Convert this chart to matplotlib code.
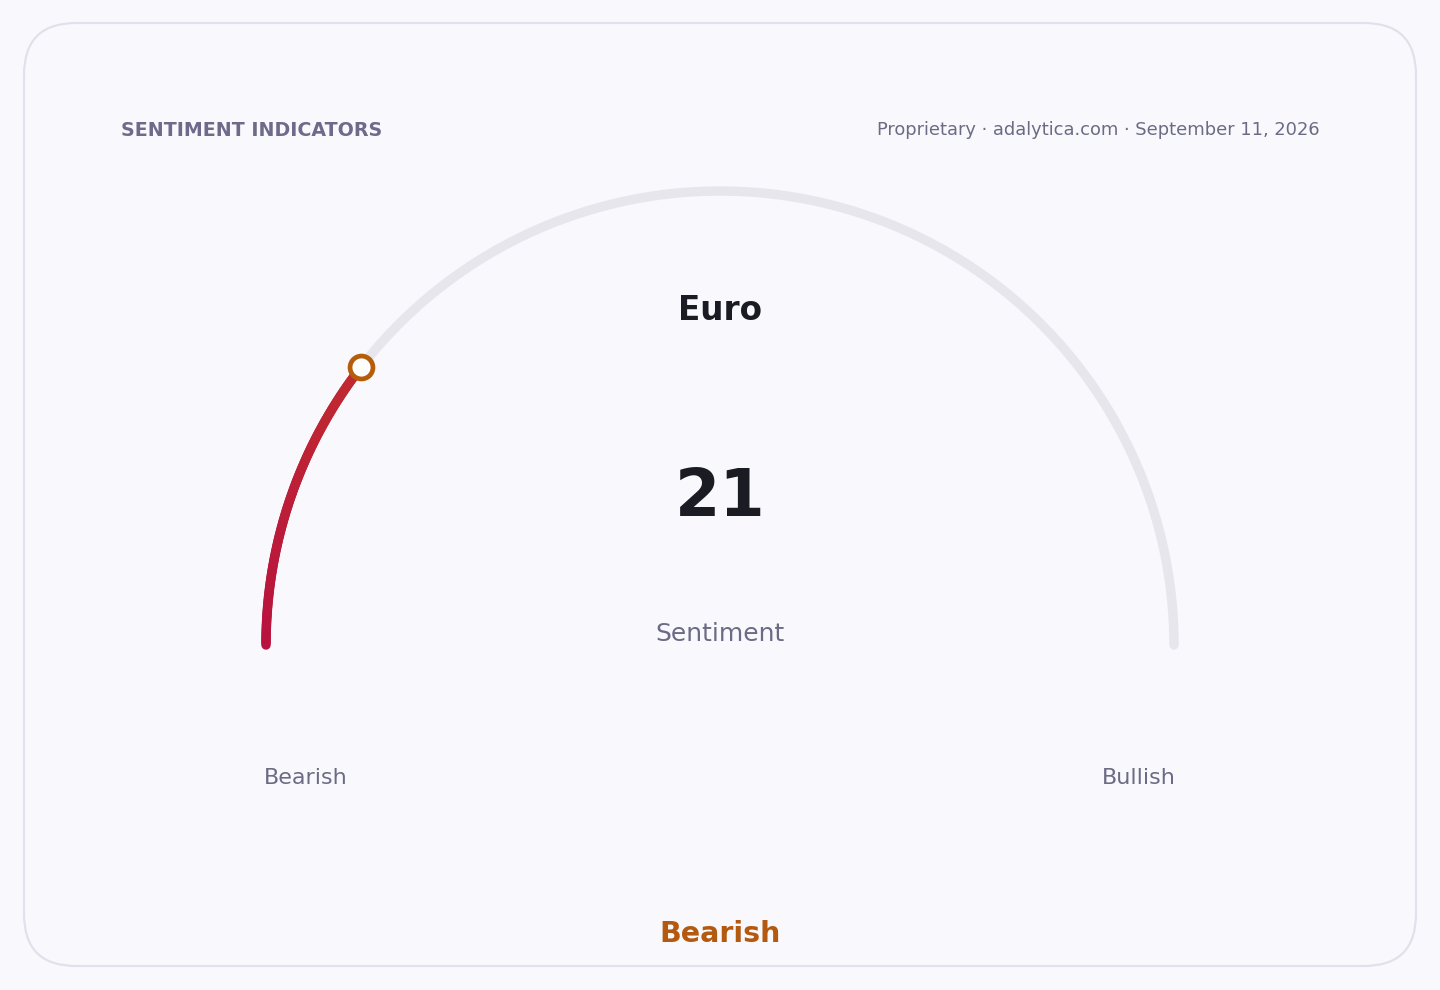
import numpy as np
import matplotlib
matplotlib.use('agg')
import matplotlib.pyplot as plt
from matplotlib.patches import FancyBboxPatch
from matplotlib.collections import LineCollection
from matplotlib.colors import LinearSegmentedColormap

# chart content
title = "SENTIMENT INDICATORS"
source = "Proprietary \u00b7 adalytica.com \u00b7 September 11, 2026"
asset = "Euro"
value = 21
value_min = 0
value_max = 100
metric = "Sentiment"
low_label = "Bearish"
high_label = "Bullish"
verdict = "Bearish"

W, H = 1440, 990
fig = plt.figure(figsize=(W / 100, H / 100), dpi=100)
fig.patch.set_facecolor('#f9f9fd')
ax = fig.add_axes([0, 0, 1, 1])
ax.set_xlim(0, W)
ax.set_ylim(H, 0)
ax.set_aspect('equal')
ax.axis('off')

# card
card = FancyBboxPatch((24, 23), 1392, 943, boxstyle="round,pad=0,rounding_size=52",
                      facecolor='#f9f9fd', edgecolor='#e1e1ec', linewidth=1.6, zorder=0)
ax.add_patch(card)

ax.text(121, 130, title, fontsize=13.7, fontweight='bold', color='#6e6a8a',
        ha='left', va='center')
ax.text(1320, 130, source, fontsize=12.9, color='#6b6b85', ha='right', va='center')

# gauge geometry
cx, cy, r = 720, 645, 454
lw = 6.8

t = np.linspace(np.pi, 0, 400)
ax.plot(cx + r * np.cos(t), cy - r * np.sin(t), color='#e6e6ec', lw=lw,
        solid_capstyle='round', zorder=1)

frac = (value - value_min) / (value_max - value_min)
end = np.pi - frac * np.pi
tv = np.linspace(np.pi, end, 120)
xs = cx + r * np.cos(tv)
ys = cy - r * np.sin(tv)
pts = np.column_stack([xs, ys]).reshape(-1, 1, 2)
segs = np.concatenate([pts[:-1], pts[1:]], axis=1)
cmap = LinearSegmentedColormap.from_list('bear', ['#b8123f', '#c02a30'])
lc = LineCollection(segs, colors=cmap(np.linspace(0, 1, len(segs))), linewidths=lw,
                    capstyle='round', zorder=2)
ax.add_collection(lc)

# value marker
ax.plot([xs[-1]], [ys[-1]], 'o', ms=16.5, mfc='white', mec='#b65d0c', mew=3.4, zorder=3)

ax.text(cx, 310, asset, fontsize=23.5, fontweight='bold', color='#1b1b24',
        ha='center', va='center')
ax.text(cx, 498, str(value), fontsize=47, fontweight='bold', color='#1b1b24',
        ha='center', va='center')
ax.text(cx, 634, metric, fontsize=18, color='#6b6b85', ha='center', va='center')

ax.text(264, 778, low_label, fontsize=16, color='#6b6b85', ha='left', va='center')
ax.text(1176, 778, high_label, fontsize=16, color='#6b6b85', ha='right', va='center')

ax.text(cx, 934, verdict, fontsize=20.5, fontweight='bold', color='#b35a10',
        ha='center', va='center')

plt.savefig('out.png', dpi=100, facecolor=fig.get_facecolor())
plt.close()
